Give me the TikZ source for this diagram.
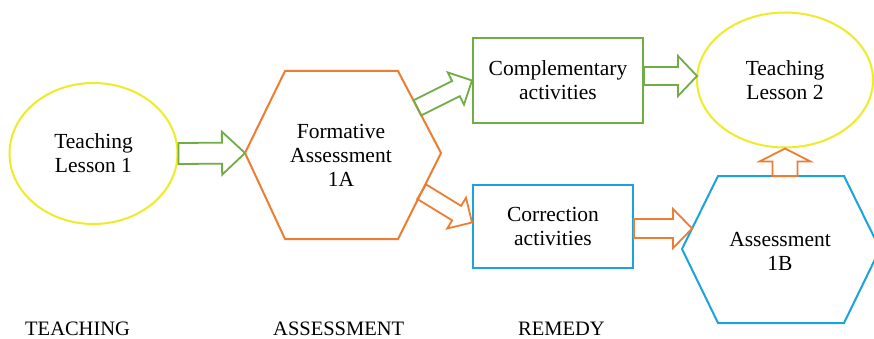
\documentclass[tikz,border=0pt]{standalone}
\usepackage{fontspec}
\setmainfont{Liberation Serif}
\newfontfamily\tnr{Liberation Serif}
\usetikzlibrary{calc,shapes.geometric}
\definecolor{cyel}{RGB}{238,236,40}
\definecolor{cgrn}{RGB}{112,173,71}
\definecolor{corg}{RGB}{237,125,49}
\definecolor{cblu}{RGB}{28,163,222}
\tikzset{
  shapeline/.style={line width=2pt, line join=miter},
  arrline/.style={line width=1.8pt, line join=miter},
  txt/.style={align=center, font=\tnr\fontsize{21.5}{24}\selectfont, inner sep=0pt},
  oval/.style={ellipse, draw=cyel, shapeline, txt},
  boxg/.style={rectangle, draw=cgrn, shapeline, txt},
  boxb/.style={rectangle, draw=cblu, shapeline, txt},
  lbl/.style={font=\tnr\fontsize{20.5}{24}\selectfont, inner sep=0pt, anchor=base west}
}
\newcommand{\blockarr}[6]{%
  \coordinate (ba-p) at ($(#3)!#6!(#2)$);
  \draw[#1, arrline] ($(#2)!#4!90:(#3)$) -- ($(ba-p)!#4!-90:(#2)$) -- ($(ba-p)!#5!-90:(#2)$) -- (#3)
     -- ($(ba-p)!#5!90:(#2)$) -- ($(ba-p)!#4!90:(#2)$) -- ($(#2)!#4!-90:(#3)$) -- cycle;
}
\begin{document}
\begin{tikzpicture}[x=1pt,y=-1pt]
\clip (0,0) rectangle (874,339);
\fill[white] (0,0) rectangle (874,339);

% ellipses
\node[oval, minimum width=168pt, minimum height=141pt] (e1) at (93.5,153.5) {Teaching\\Lesson 1};
\node[oval, minimum width=176pt, minimum height=135pt] (e2) at (785,80) {Teaching\\Lesson 2};

% hexagon 1A
\coordinate (h1w) at (245,153);
\coordinate (h1nw) at (285,71);
\coordinate (h1ne) at (398,71);
\coordinate (h1e) at (441,153);
\coordinate (h1se) at (398,239);
\coordinate (h1sw) at (285,239);
\draw[corg, shapeline] (h1w) -- (h1nw) -- (h1ne) -- (h1e) -- (h1se) -- (h1sw) -- cycle;
\node[txt] (h1) at (341,155) {Formative\\Assessment\\1A};

% hexagon 1B
\coordinate (h2w) at (682,249);
\coordinate (h2nw) at (718,176);
\coordinate (h2ne) at (844,176);
\coordinate (h2e) at (880,249);
\coordinate (h2se) at (844,323);
\coordinate (h2sw) at (718,323);
\draw[cblu, shapeline] (h2w) -- (h2nw) -- (h2ne) -- (h2e) -- (h2se) -- (h2sw) -- cycle;
\node[txt] (h2) at (780,251) {Assessment\\1B};

% boxes
\node[boxg, minimum width=170pt, minimum height=85pt] (comp) at (558,80.5) {Complementary\\activities};
\node[boxb, minimum width=160pt, minimum height=83pt] (corr) at (553,226.5) {Correction\\activities};

% connector end points
\coordinate (a1s) at (e1.east);
\coordinate (a2s) at ($(h1ne)!0.45!(h1e)$);
\coordinate (a2t) at (comp.west);
\coordinate (a3s) at ($(h1e)!0.45!(h1se)$);
\coordinate (a3t) at ($(corr.west)+(0,-4)$);
\coordinate (a4s) at ($(comp.east)+(0,-4.5)$);
\coordinate (a4t) at ($(e2.west)+(1,-4)$);
\coordinate (a5t) at ($(h2nw)!0.72!(h2w)$);
\coordinate (a5s) at (corr.east |- a5t);
\coordinate (a6s) at (e2.south |- h2nw);

\blockarr{cgrn}{a1s}{h1w}{10.5pt}{21.5pt}{23pt}
\blockarr{cgrn}{a2s}{a2t}{8.5pt}{18pt}{18pt}
\blockarr{corg}{a3s}{a3t}{8.5pt}{18pt}{18pt}
\blockarr{cgrn}{a4s}{a4t}{9pt}{20pt}{19pt}
\blockarr{corg}{a5s}{a5t}{9.5pt}{19.5pt}{19pt}
\blockarr{corg}{a6s}{e2.south}{12.5pt}{25.5pt}{13pt}

% bottom labels
\node[lbl] (l1) at (25,335) {TEACHING};
\node[lbl] (l2) at (273,335) {ASSESSMENT};
\node[lbl] (l3) at (518,335) {REMEDY};
\end{tikzpicture}
\end{document}
